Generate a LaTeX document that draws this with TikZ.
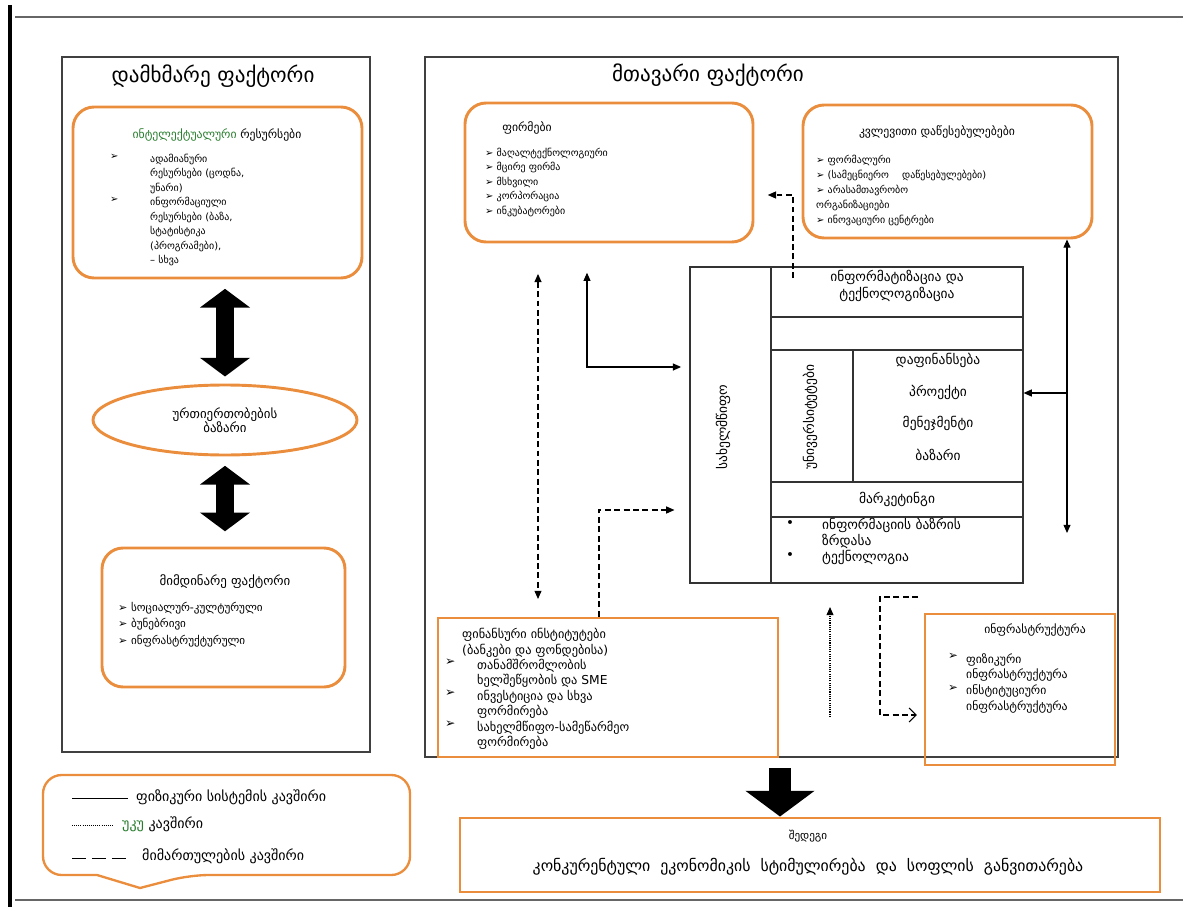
\documentclass[tikz,border=0pt]{standalone}
\usepackage{fontspec}
\setmainfont{DejaVu Sans}
\usetikzlibrary{arrows.meta, positioning, fit, shapes.geometric}

\definecolor{boxorange}{RGB}{234,142,62}
\definecolor{legendgreen}{RGB}{40,125,45}

\begin{document}
\begin{tikzpicture}[x=0.03cm, y=-0.03cm,
    rbox/.style={draw=boxorange, line width=2.5pt, rounded corners=18pt, inner sep=0pt},
    sbox/.style={draw=boxorange, line width=2.5pt, inner sep=0pt},
    panel/.style={draw=black!75, line width=1pt, inner sep=0pt},
    cell/.style={draw=black!80, line width=1pt},
    big/.style={font=\fontsize{18}{22}\selectfont},
    head/.style={font=\fontsize{10}{12}\selectfont},
    cellt/.style={font=\fontsize{11.5}{14.5}\selectfont, align=center},
    item/.style={font=\fontsize{8.5}{12.3}\selectfont, align=left, anchor=north west, inner sep=0pt},
    conn/.style={line width=0.9pt, >={Triangle[length=7pt,width=6pt]}},
    dashline/.style={dash pattern=on 5pt off 3pt},
    fat/.style={line width=16pt, {Triangle[length=16pt,width=42pt]}-{Triangle[length=16pt,width=42pt]}}
]
    \useasboundingbox (0,0) rectangle (1183,907);

    % Page frame
    \draw[line width=3pt] (10,5) -- (10,907);
    \draw[black!60, line width=1pt] (15,17) -- (1183,17);
    \draw[black!60, line width=1pt] (15,900) -- (1183,900);

    % Panels
    \node[panel, fit={(62,57) (370,752)}] (auxpanel) {};
    \node[panel, fit={(425,57) (1118,757)}] (mainpanel) {};
    \node[big] (auxtitle) at (213,76) {დამხმარე ფაქტორი};
    \node[big] (maintitle) at (708,75) {მთავარი ფაქტორი};

    % Auxiliary factor: boxes
    \node[rbox, fit={(73,107) (362,278)}] (resources) {};
    \node[head] (restitle) at (217,135) {{\color{legendgreen}ინტელექტუალური} რესურსები};
    \node[item] (resbul) at (110,154) {➢\\[24.6pt]➢};
    \node[item] (restext) at (150,154) {ადამიანური\\რესურსები (ცოდნა,\\უნარი)\\ინფორმაციული\\რესურსები (ბაზა,\\სტატისტიკა\\(პროგრამები),\\– სხვა};

    \node[draw=boxorange, line width=2.5pt, ellipse, minimum width=264*0.03cm, minimum height=70*0.03cm, inner sep=0pt] (market) at (225,420) {};
    \node[font=\fontsize{11}{12}\selectfont, align=center] (markettext) at (225,420) {ურთიერთობების\\ბაზარი};

    \node[rbox, fit={(102,548) (345,687)}] (environment) {};
    \node[font=\fontsize{11}{13}\selectfont] (envtitle) at (225,582) {მიმდინარე ფაქტორი};
    \node[item, font=\fontsize{9.5}{14}\selectfont] (envtext) at (118,602) {➢ სოციალურ-კულტურული\\➢ ბუნებრივი\\➢ ინფრასტრუქტურული};

    \draw[fat, shorten <=8pt, shorten >=6pt] (resources.south -| market.north) -- (market.north);
    \draw[fat, shorten <=8pt, shorten >=13pt] (market.south) -- (market.south |- environment.north);

    % Main factor: boxes
    \node[rbox, fit={(465,103) (753,242)}] (firms) {};
    \node[head] (firmstitle) at (527,128) {ფირმები};
    \node[item] (firmstext) at (485,148) {➢ მაღალტექნოლოგიური\\➢ მცირე ფირმა\\➢ მსხვილი\\➢ კორპორაცია\\➢ ინკუბატორები};

    \node[rbox, fit={(803,105) (1092,238)}] (knowledge) {};
    \node[head] (knowtitle) at (937,132) {კვლევითი დაწესებულებები};
    \node[item, font=\fontsize{8.5}{12.75}\selectfont] (knowtext) at (816,155) {➢ ფორმალური\\➢ (სამეცნიერო \quad დაწესებულებები)\\➢ არასამთავრობო\\ორგანიზაციები\\➢ ინოვაციური ცენტრები};

    \node[sbox, fit={(438,618) (778,757)}] (finance) {};
    \node[item, font=\fontsize{10.5}{13.2}\selectfont] (fintext) at (462,628) {ფინანსური ინსტიტუტები\\(ბანკები და ფონდებისა)\\\hspace*{0.45cm}თანამშრომლობის\\\hspace*{0.45cm}ხელშეწყობის და SME\\\hspace*{0.45cm}ინვესტიცია და სხვა\\\hspace*{0.45cm}ფორმირება\\\hspace*{0.45cm}სახელმწიფო-სამეწარმეო\\\hspace*{0.45cm}ფორმირება};
    \node[item, font=\fontsize{10.5}{13.2}\selectfont] (finbul) at (445,659) {➢\\[13.2pt]➢\\[13.2pt]➢};

    \node[sbox, fit={(925,614) (1115,765)}] (infra) {};
    \node[head] (infratitle) at (1035,630) {ინფრასტრუქტურა};
    \node[item, font=\fontsize{10}{13.6}\selectfont] (infrabul) at (948,653) {➢\\[13.6pt]➢};
    \node[item, font=\fontsize{10}{13.6}\selectfont] (infratext) at (966,653) {ფიზიკური\\ინფრასტრუქტურა\\ინსტიტუციური\\ინფრასტრუქტურა};

    % Core table
    \node[cell, fit={(690,267) (1023,583)}, inner sep=0pt] (core) {};
    \draw[cell] (771,267) -- (771,583);
    \draw[cell] (771,317) -- (1023,317);
    \draw[cell] (771,350) -- (1023,350);
    \draw[cell, line width=1.5pt] (853,350) -- (853,482);
    \draw[cell] (771,482) -- (1023,482);
    \draw[cell] (771,517) -- (1023,517);
    \node[cellt] (innov) at (897,286) {ინფორმატიზაცია და\\ტექნოლოგიზაცია};
    \node[cellt, rotate=90] (state) at (723,427) {სახელმწიფო};
    \node[cellt, rotate=90] (science) at (810,417) {უნივერსიტეტები};
    \node[cellt] (funding) at (938,360) {დაფინანსება};
    \node[cellt] (project) at (938,392) {პროექტი};
    \node[cellt] (manage) at (938,423) {მენეჯმენტი};
    \node[cellt] (marketplace) at (938,455) {ბაზარი};
    \node[cellt] (marketing) at (897,499) {მარკეტინგი};
    \node[item, font=\fontsize{11.5}{13.6}\selectfont] (corebul) at (786,520) {•\\[13.6pt]•};
    \node[item, font=\fontsize{11.5}{13.6}\selectfont] (coretext) at (822,518) {ინფორმაციის ბაზრის\\ზრდასა\\ტექნოლოგია};

    \node[sbox, fit={(460,818) (1160,892)}] (result) {};
    \node[font=\fontsize{9.5}{11}\selectfont] (resulttitle) at (808,836) {შედეგი};
    \node[font=\fontsize{13.5}{15}\selectfont] (resulttext) at (808,867) {კონკურენტული \ ეკონომიკის \ სტიმულირება \ და \ სოფლის \ განვითარება};

    % Connectors
    \coordinate (xa) at (538,0);
    \coordinate (xb) at (587,0);
    \coordinate (xc) at (599,0);
    \coordinate (xd) at (793,0);
    \coordinate (xe) at (1067,0);
    \coordinate (xf) at (830,0);

    \draw[conn, dashline, <->, shorten <=26pt, shorten >=15pt] (xa |- firms.south) -- (xa |- finance.north);
    \draw[conn, <->, shorten <=25pt] (xb |- firms.south) -- (587,367) -- ([xshift=-0.25cm]core.west |- 0,367);
    \draw[conn, dashline, ->] (xc |- finance.north) -- (599,510) -- ([xshift=-0.45cm]core.west |- 0,510);
    \draw[conn, dashline, ->] ([yshift=-0.35cm]xd |- core.north) -- (793,195) -- ([xshift=0.4cm]firms.east |- 0,195);
    \draw[conn, <->] (xe |- knowledge.south) -- (1067,533);
    \draw[conn, ->] (1067,393) -- (core.east |- 0,393);
    \draw[conn, densely dotted, ->, shorten >=20pt] (830,717) -- (xf |- core.south);
    \draw[conn, dashline, -{Straight Barb[length=6pt]}] (918,597) -- (880,597) -- (880,715) -- ([xshift=-0.2cm]infra.west |- 0,715);

    % Arrow to result
    \coordinate (outtop) at (780,768);
    \draw[line width=19pt, -{Triangle[length=22pt,width=58pt]}] (outtop) -- (outtop |- result.north);

    % Legend
    \draw[draw=boxorange, line width=2pt, rounded corners=16pt]
        (43,775) -- (410,775) -- (410,875) -- (190,875) [sharp corners] -- (140,888) -- (97,875) [rounded corners=16pt] -- (43,875) -- cycle;
    \draw[line width=0.8pt] (72,798) -- (128,798);
    \node[item, anchor=west, font=\fontsize{12}{13}\selectfont] (legsolid) at (136,797) {ფიზიკური სისტემის კავშირი};
    \draw[line width=0.8pt, densely dotted] (72,825) -- (113,825);
    \node[item, anchor=west, font=\fontsize{12}{13}\selectfont] (legdot) at (122,824) {{\color{legendgreen}უკუ} კავშირი};
    \draw[line width=0.8pt, dash pattern=on 12pt off 5pt] (72,858) -- (130,858);
    \node[item, anchor=west, font=\fontsize{12}{13}\selectfont] (legdash) at (142,856) {მიმართულების კავშირი};
\end{tikzpicture}
\end{document}
